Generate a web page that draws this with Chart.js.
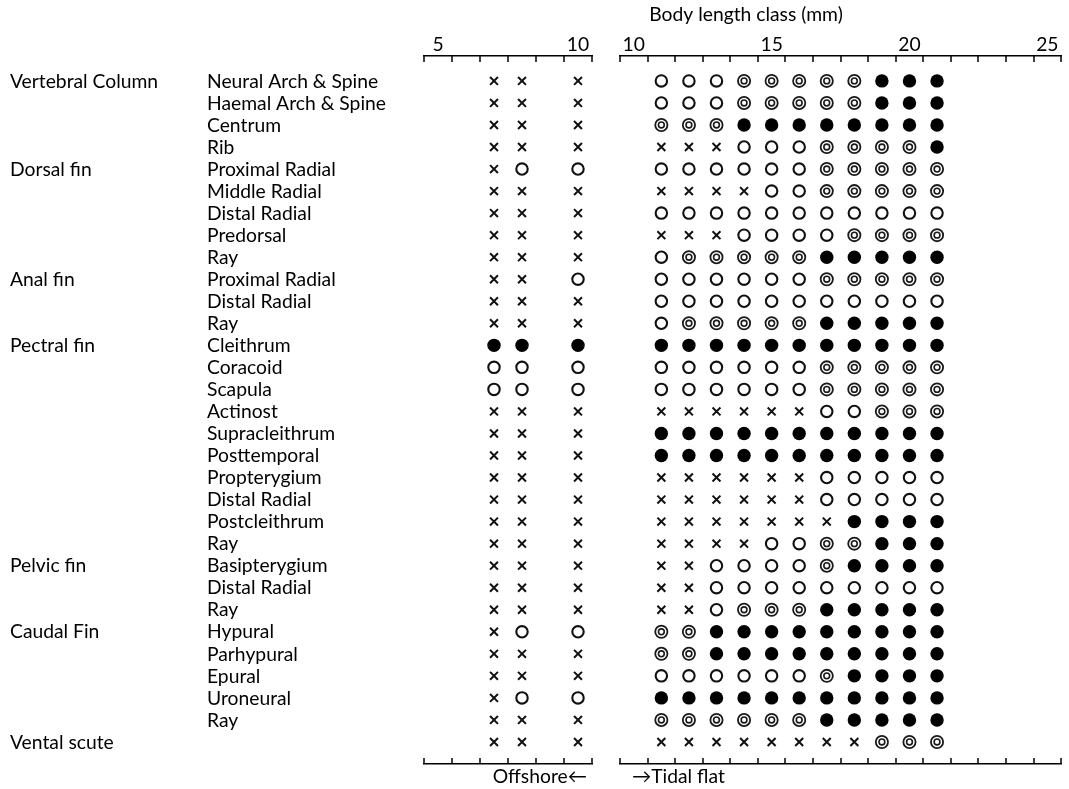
<!DOCTYPE html>
<html>
<head>
<meta charset="utf-8">
<script src="https://cdn.jsdelivr.net/npm/chart.js@4.4.0/dist/chart.umd.min.js"></script>
<style>
  html, body { margin: 0; padding: 0; background: #fff; }
  #wrap { position: relative; width: 1069px; height: 789px; background: #fff; overflow: hidden; }
  #offshore { position: absolute; left: 0; top: 0; }
  #tidal { position: absolute; left: 600px; top: 0; }
</style>
</head>
<body>
<div id="wrap">
  <canvas id="offshore" width="600" height="789"></canvas>
  <canvas id="tidal" width="469" height="789"></canvas>
</div>
<script>
// Skeletal elements, one row each (top to bottom)
const groupNames = [
  'Vertebral Column', '', '', '',
  'Dorsal fin', '', '', '', '',
  'Anal fin', '', '',
  'Pectral fin', '', '', '', '', '', '', '', '', '',
  'Pelvic fin', '', '',
  'Caudal Fin', '', '', '', '',
  'Vental scute'
];
const partNames = [
  'Neural Arch & Spine', 'Haemal Arch & Spine', 'Centrum', 'Rib',
  'Proximal Radial', 'Middle Radial', 'Distal Radial', 'Predorsal', 'Ray',
  'Proximal Radial', 'Distal Radial', 'Ray',
  'Cleithrum', 'Coracoid', 'Scapula', 'Actinost', 'Supracleithrum', 'Posttemporal',
  'Propterygium', 'Distal Radial', 'Postcleithrum', 'Ray',
  'Basipterygium', 'Distal Radial', 'Ray',
  'Hypural', 'Parhypural', 'Epural', 'Uroneural', 'Ray',
  ''
];

// Body length classes (mm) sampled in each habitat
const offshoreLengths = [7, 8, 10];
const tidalLengths = [11, 12, 13, 14, 15, 16, 17, 18, 19, 20, 21];

// Stage codes: X = cross, O = open circle, D = double circle, F = filled circle
const offshoreStages = [
  'XXX', 'XXX', 'XXX', 'XXX',
  'XOO', 'XXX', 'XXX', 'XXX', 'XXX',
  'XXO', 'XXX', 'XXX',
  'FFF', 'OOO', 'OOO', 'XXX', 'XXX', 'XXX', 'XXX', 'XXX', 'XXX', 'XXX',
  'XXX', 'XXX', 'XXX',
  'XOO', 'XXX', 'XXX', 'XOO', 'XXX',
  'XXX'
];
const tidalStages = [
  'OOODDDDDFFF', 'OOODDDDDFFF', 'DDDFFFFFFFF', 'XXXOOODDDDF',
  'OOOOOODDDDD', 'XXXXOODDDDD', 'OOOOOOOOOOO', 'XXXOOOODDDD', 'ODDDDDFFFFF',
  'OOOOOODDDDD', 'OOOOOOOOOOO', 'ODDDDDFFFFF',
  'FFFFFFFFFFF', 'OOOOOODDDDD', 'OOOOOODDDDD', 'XXXXXXOODDD', 'FFFFFFFFFFF',
  'FFFFFFFFFFF', 'XXXXXXOOOOO', 'XXXXXXOOOOO', 'XXXXXXXFFFF', 'XXXXOODDFFF',
  'XXOOOODFFFF', 'XXOOOOOOOOO', 'XXODDDFFFFF',
  'DDFFFFFFFFF', 'DDFFFFFFFFF', 'OOOOOODFFFF', 'FFFFFFFFFFF', 'DDDDDDFFFFF',
  'XXXXXXXXDDD'
];

// Axis tick labels
const offshoreTicks = [5, 10];
const tidalTicks = [10, 15, 20, 25];

const FONT = 'Lato, "Liberation Sans", sans-serif';
const FONT_SIZE = 19.3;
const INK = '#000';

function pointsFor(stages, lengths, code) {
  const pts = [];
  stages.forEach((row, r) => {
    [...row].forEach((c, k) => {
      if (c === code) pts.push({ x: lengths[k], y: r });
    });
  });
  return pts;
}

// Lower dataset index is painted on top, so the inner ring precedes the outer one
function buildDatasets(stages, lengths) {
  const common = { xAxisID: 'xTop', yAxisID: 'y', showLine: false, pointHoverRadius: 0 };
  return [
    Object.assign({ label: 'cross', data: pointsFor(stages, lengths, 'X'),
      pointStyle: 'crossRot', pointRadius: 5.6, borderColor: '#111',
      pointBorderWidth: 2 }, common),
    Object.assign({ label: 'open', data: pointsFor(stages, lengths, 'O'),
      pointStyle: 'circle', pointRadius: 5.7, borderColor: '#111', backgroundColor: '#fff',
      pointBorderWidth: 2.1 }, common),
    Object.assign({ label: 'double inner', data: pointsFor(stages, lengths, 'D'),
      pointStyle: 'circle', pointRadius: 2.9, borderColor: '#1a1a1a', backgroundColor: '#fff',
      pointBorderWidth: 1.6 }, common),
    Object.assign({ label: 'double outer', data: pointsFor(stages, lengths, 'D'),
      pointStyle: 'circle', pointRadius: 6.1, borderColor: '#1a1a1a', backgroundColor: '#fff',
      pointBorderWidth: 1.8 }, common),
    Object.assign({ label: 'filled', data: pointsFor(stages, lengths, 'F'),
      pointStyle: 'circle', pointRadius: 6.7, borderColor: '#000', backgroundColor: '#000',
      pointBorderWidth: 0 }, common)
  ];
}

// Short tick marks at every class boundary, pointing into the plot area
const boundaryTicks = {
  id: 'boundaryTicks',
  afterDraw(chart) {
    const { ctx, chartArea } = chart;
    ctx.save();
    ctx.strokeStyle = INK;
    ctx.lineWidth = 1.5;
    ['xTop', 'xBottom'].forEach(id => {
      const s = chart.scales[id];
      for (let v = s.min; v <= s.max + 1e-9; v += 1) {
        const px = Math.round(s.getPixelForValue(v));
        ctx.beginPath();
        if (id === 'xTop') {
          ctx.moveTo(px, chartArea.top);
          ctx.lineTo(px, chartArea.top + 6);
        } else {
          ctx.moveTo(px, chartArea.bottom);
          ctx.lineTo(px, chartArea.bottom - 6);
        }
        ctx.stroke();
      }
    });
    ctx.restore();
  }
};

// Row labels (group and element names) and the offshore note
const rowLabels = {
  id: 'rowLabels',
  afterDraw(chart) {
    const { ctx } = chart;
    const y = chart.scales.y;
    ctx.save();
    ctx.fillStyle = INK;
    ctx.font = FONT_SIZE + 'px ' + FONT;
    ctx.textAlign = 'left';
    ctx.textBaseline = 'middle';
    partNames.forEach((name, i) => {
      const py = y.getPixelForValue(i) + 0.5;
      if (groupNames[i]) ctx.fillText(groupNames[i], 10, py);
      if (name) ctx.fillText(name, 207, py);
    });
    ctx.textAlign = 'right';
    ctx.fillText('Offshore\u2190', chart.chartArea.right - 5, 777);
    ctx.restore();
  }
};

// Axis caption and the tidal-flat note
const tidalNotes = {
  id: 'tidalNotes',
  afterDraw(chart) {
    const { ctx } = chart;
    ctx.save();
    ctx.fillStyle = INK;
    ctx.font = FONT_SIZE + 'px ' + FONT;
    ctx.textBaseline = 'middle';
    ctx.textAlign = 'center';
    ctx.fillText('Body length class (mm)', 146, 15);
    ctx.textAlign = 'left';
    ctx.fillText('\u2192Tidal flat', chart.chartArea.left + 12, 777);
    ctx.restore();
  }
};

function makeChart(canvasId, stages, lengths, ticks, range, padding, plugins) {
  return new Chart(document.getElementById(canvasId), {
    type: 'scatter',
    data: { datasets: buildDatasets(stages, lengths) },
    options: {
      responsive: false,
      devicePixelRatio: 1,
      animation: false,
      events: [],
      layout: { padding },
      plugins: { legend: { display: false }, tooltip: { enabled: false } },
      scales: {
        y: { type: 'linear', reverse: true, min: -1.13, max: 31, display: false },
        xTop: {
          type: 'linear', position: 'top', min: range[0], max: range[1],
          afterBuildTicks: s => { s.ticks = ticks.map(v => ({ value: v })); },
          afterFit: s => { s.height = 56; },
          ticks: { color: INK, font: { family: FONT, size: FONT_SIZE }, padding: 0,
                   maxRotation: 0, autoSkip: false },
          grid: { display: false, drawTicks: false },
          border: { display: true, color: INK, width: 1.5 }
        },
        xBottom: {
          type: 'linear', position: 'bottom', min: range[0], max: range[1],
          afterFit: s => { s.height = 25; },
          ticks: { display: false },
          grid: { display: false, drawTicks: false },
          border: { display: true, color: INK, width: 1.5 }
        }
      }
    },
    plugins
  });
}

makeChart('offshore', offshoreStages, offshoreLengths, offshoreTicks, [4.5, 10.5],
  { left: 424, right: 8, top: 0, bottom: 0 }, [boundaryTicks, rowLabels]);
makeChart('tidal', tidalStages, tidalLengths, tidalTicks, [9.5, 25.5],
  { left: 20, right: 0, top: 0, bottom: 0 }, [boundaryTicks, tidalNotes]);
</script>
</body>
</html>
